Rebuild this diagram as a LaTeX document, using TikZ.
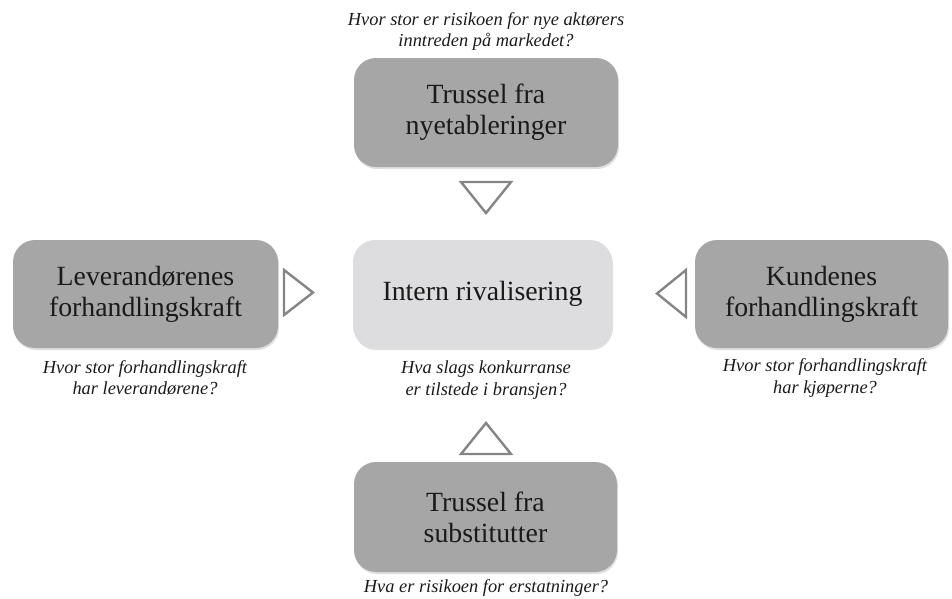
\documentclass[tikz,border=0pt]{standalone}
\usepackage{fontspec}
\setmainfont{Liberation Serif}
\usetikzlibrary{shadows}
\definecolor{boxdark}{HTML}{A6A6A6}
\definecolor{boxlight}{HTML}{DDDDDF}
\definecolor{trigray}{HTML}{858585}
\definecolor{txt}{HTML}{1A1A1A}
\begin{document}
\begin{tikzpicture}[x=1pt,y=-1pt,
  force/.style={draw=none, fill=boxdark, rounded corners=22pt, inner sep=0pt, outer sep=0pt,
    align=center, text=txt, font=\fontsize{27.8}{31}\selectfont,
    drop shadow={opacity=0.25, shadow xshift=1pt, shadow yshift=-2pt}},
  rival/.style={force, fill=boxlight},
  question/.style={align=center, text=txt, inner sep=0pt, font=\fontsize{18.4}{21.5}\selectfont\itshape},
  tri/.style={draw=trigray, line width=2.4pt, line join=miter}
]
\useasboundingbox (0,0) rectangle (952,598);
% boxes
\node[force, minimum width=264pt, minimum height=109pt] (top) at (486,112.5) {Trussel fra\\nyetableringer};
\node[force, minimum width=265pt, minimum height=108pt] (left) at (145.5,294) {Leverandørenes\\forhandlingskraft};
\node[rival, minimum width=259pt, minimum height=108pt] (center) at (482.5,294) {Intern rivalisering};
\node[force, minimum width=253pt, minimum height=108pt] (right) at (821.5,294) {Kundenes\\forhandlingskraft};
\node[force, minimum width=263pt, minimum height=110pt] (bottom) at (485.5,517) {Trussel fra\\substitutter};
% questions
\node[question] (qtop) at (486,31.5) {Hvor stor er risikoen for nye aktørers\\inntreden på markedet?};
\node[question] (qleft) at (145,378) {Hvor stor forhandlingskraft\\har leverandørene?};
\node[question] (qcenter) at (486,380) {Hva slags konkurranse\\er tilstede i bransjen?};
\node[question] (qright) at (825,378) {Hvor stor forhandlingskraft\\har kjøperne?};
\node[question] (qbottom) at (486,588) {Hva er risikoen for erstatninger?};
% triangles
\draw[tri] (461,182) -- (511,182) -- (486,213) -- cycle;
\draw[tri] (284,270) -- (284,315) -- (313,292.5) -- cycle;
\draw[tri] (686,270) -- (686,317) -- (657,293.5) -- cycle;
\draw[tri] (461,454) -- (511,454) -- (486,423) -- cycle;
\end{tikzpicture}
\end{document}
